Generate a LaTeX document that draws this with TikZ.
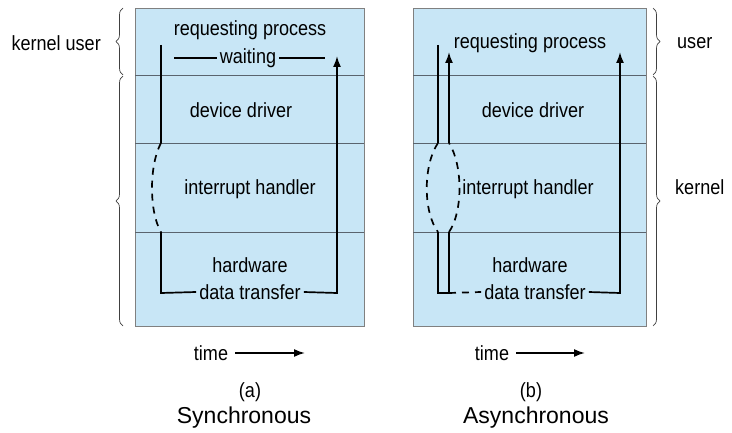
\documentclass[tikz,border=0pt]{standalone}
\usepackage{fontspec}
\setmainfont{Liberation Sans}
\newfontfamily\narrowsans{Liberation Sans}[FakeStretch=0.88]
\usepackage{tikz}
\usetikzlibrary{positioning,arrows.meta,decorations.pathreplacing}
\definecolor{paleblue}{RGB}{200,230,246}
\definecolor{sepgray}{RGB}{90,100,110}
\tikzset{
panel/.style={
  draw=gray,
  fill=paleblue,
  line width=0.8pt
  },
sep/.style={draw=sepgray, line width=0.8pt},
lbl/.style={font=\narrowsans\fontsize{20.5}{22}\selectfont, inner sep=3pt},
title/.style={font=\fontsize{23}{25}\selectfont, inner sep=1pt},
flow/.style={line width=1.7pt},
dflow/.style={flow, dash pattern=on 7pt off 6pt},
line/.style={flow, ->, >={Latex[length=11pt,width=8pt]}},
curly/.style={draw=darkgray, line width=0.7pt,
  decorate, decoration={brace, amplitude=7pt}}
}

\begin{document}
\begin{tikzpicture}[x=1pt, y=-1pt]
\useasboundingbox (0,0) rectangle (732,433);
% panels
\draw[panel] (135,8) rectangle (364,326);
\draw[panel] (413,8) rectangle (646,326);
\foreach \y in {75,143,232} {
  \draw[sep] (135,\y) -- (364,\y);
  \draw[sep] (413,\y) -- (646,\y);
}

% (a) synchronous
\node[lbl](reqA) at (250,30) {requesting process};
\node[lbl](waitA) at (248,58) {waiting};
\node[lbl](drvA) at (241,110) {device driver};
\node[lbl](intA) at (250,189) {interrupt handler};
\node[lbl](hwA) at (250,265) {hardware};
\node[lbl](dtA) at (250,292) {data transfer};
\coordinate (a1) at (161,45);
\coordinate (a2) at (161,143);
\coordinate (a3) at (161,232);
\coordinate (a4) at (161,293);
\coordinate (a5) at (337,293);
\coordinate (a6) at (337,56);
\coordinate (w1) at (174,58);
\coordinate (w2) at (325,58);
\draw[flow] (a1) -- (a2);
\draw[dflow] (a2) .. controls (149,165) and (149,212) .. (a3);
\draw[flow] (a3) -- (a4) -- (dtA.west);
\draw[line] (dtA.east) -- (a5) -- (a6);
\draw[flow] (w1) -- (waitA.west);
\draw[flow] (waitA.east) -- (w2);

% (b) asynchronous
\node[lbl](reqB) at (530,43) {requesting process};
\node[lbl](drvB) at (533,110) {device driver};
\node[lbl](intB) at (528,189) {interrupt handler};
\node[lbl](hwB) at (530,265) {hardware};
\node[lbl](dtB) at (535,292) {data transfer};
\coordinate (b1) at (438,45);
\coordinate (b2) at (438,143);
\coordinate (b3) at (438,232);
\coordinate (b4) at (438,293);
\coordinate (c1) at (449,293);
\coordinate (c2) at (449,232);
\coordinate (c3) at (449,143);
\coordinate (c4) at (449,52);
\coordinate (b5) at (620,293);
\coordinate (b6) at (620,52);
\draw[flow] (b1) -- (b2);
\draw[dflow] (b2) .. controls (423,165) and (423,212) .. (b3);
\draw[flow] (b3) -- (b4) -- (c1) -- (c2);
\draw[dflow] (c1) -- (dtB.west);
\draw[dflow] (c2) .. controls (463,212) and (463,165) .. (c3);
\draw[line] (c3) -- (c4);
\draw[line] (dtB.east) -- (b5) -- (b6);

% braces
\draw[curly] (123,75) -- (123,8);
\draw[curly] (123,326) -- (123,76);
\node[lbl, anchor=east](ku) at (104,43) {kernel user};
\draw[curly] (653,8) -- (653,75);
\draw[curly] (653,76) -- (653,326);
\node[lbl, anchor=west](us) at (674,43) {user};
\node[lbl, anchor=west](ke) at (672,187) {kernel};

% time
\node[lbl](tA) at (211,353) {time};
\coordinate (tA2) at (305,353);
\draw[line] (tA.east) ++(4,0) -- (tA2);
\node[lbl](tB) at (492,353) {time};
\coordinate (tB2) at (585,353);
\draw[line] (tB.east) ++(4,0) -- (tB2);

% captions
\node[lbl](pa) at (250,392) {(a)};
\node[title](sa) at (244,418) {Synchronous};
\node[lbl](pb) at (531,392) {(b)};
\node[title](sb) at (536,418) {Asynchronous};
\end{tikzpicture}
\end{document}
